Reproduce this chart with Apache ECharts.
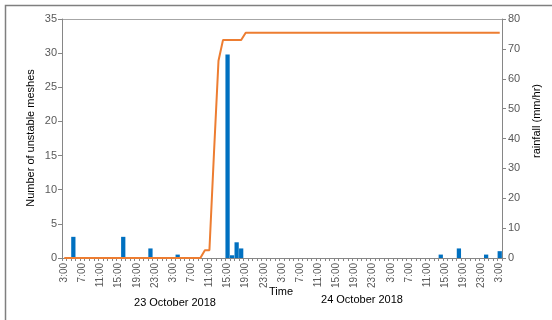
<!DOCTYPE html>
<html>
<head>
<meta charset="utf-8">
<script src="https://cdn.jsdelivr.net/npm/echarts@6/dist/echarts.min.js"></script>
<style>
  html, body { margin: 0; padding: 0; background: #fff; }
  #chart { width: 552px; height: 320px; }
</style>
</head>
<body>
<div id="chart"></div>
<script>
// Hourly time slots from 3:00 on the first day to 3:00 four days later (97 slots)
const START_HOUR = 3;
const SLOT_COUNT = 97;
const hours = Array.from({ length: SLOT_COUNT }, (_, i) => ((START_HOUR + i) % 24) + ':00');

// Number of unstable meshes per hour
const unstableMeshes = [
  0, 0, 3.1, 0, 0, 0, 0, 0, 0, 0,
  0, 0, 0, 3.1, 0, 0, 0, 0, 0, 1.4,
  0, 0, 0, 0, 0, 0.5, 0, 0, 0, 0,
  0, 0, 0, 0, 0, 0, 29.8, 0.4, 2.3, 1.4,
  0, 0, 0, 0, 0, 0, 0, 0, 0, 0,
  0, 0, 0, 0, 0, 0, 0, 0, 0, 0,
  0, 0, 0, 0, 0, 0, 0, 0, 0, 0,
  0, 0, 0, 0, 0, 0, 0, 0, 0, 0,
  0, 0, 0, 0.5, 0, 0, 0, 1.4, 0, 0,
  0, 0, 0, 0.5, 0, 0, 1.0
];

// Rainfall intensity (mm/hr)
const rainfall = [
  0, 0, 0, 0, 0, 0, 0, 0, 0, 0,
  0, 0, 0, 0, 0, 0, 0, 0, 0, 0,
  0, 0, 0, 0, 0, 0, 0, 0, 0, 0,
  0, 2.6, 2.6, 35, 66, 73, 73, 73, 73, 73,
  75.4, 75.4, 75.4, 75.4, 75.4, 75.4, 75.4, 75.4, 75.4, 75.4,
  75.4, 75.4, 75.4, 75.4, 75.4, 75.4, 75.4, 75.4, 75.4, 75.4,
  75.4, 75.4, 75.4, 75.4, 75.4, 75.4, 75.4, 75.4, 75.4, 75.4,
  75.4, 75.4, 75.4, 75.4, 75.4, 75.4, 75.4, 75.4, 75.4, 75.4,
  75.4, 75.4, 75.4, 75.4, 75.4, 75.4, 75.4, 75.4, 75.4, 75.4,
  75.4, 75.4, 75.4, 75.4, 75.4, 75.4, 75.4
];

const dateLabels = ['23 October 2018', '24 October 2018'];

const FONT = '"Liberation Sans", Arial, sans-serif';
const AXIS_COLOR = '#868686';
const TEXT_COLOR = '#595959';

const chart = echarts.init(document.getElementById('chart'), null, { renderer: 'canvas' });

chart.setOption({
  animation: false,
  backgroundColor: '#ffffff',
  grid: { left: 62, right: 50, top: 19, bottom: 62 },
  xAxis: {
    type: 'category',
    data: hours,
    boundaryGap: true,
    axisLine: { lineStyle: { color: AXIS_COLOR, width: 1 } },
    axisTick: { show: true, interval: 0, length: 3, lineStyle: { color: AXIS_COLOR } },
    axisLabel: {
      interval: 3, rotate: 90, margin: 5,
      fontFamily: FONT, fontSize: 10, color: TEXT_COLOR
    },
    splitLine: { show: false }
  },
  yAxis: [
    {
      type: 'value', min: 0, max: 35, interval: 5, position: 'left',
      axisLine: { show: true, lineStyle: { color: AXIS_COLOR } },
      axisTick: { show: true, length: 4, lineStyle: { color: AXIS_COLOR } },
      axisLabel: { margin: 5, fontFamily: FONT, fontSize: 11, color: TEXT_COLOR },
      splitLine: { show: false }
    },
    {
      type: 'value', min: 0, max: 80, interval: 10, position: 'right',
      axisLine: { show: true, lineStyle: { color: AXIS_COLOR } },
      axisTick: { show: true, length: 4, lineStyle: { color: AXIS_COLOR } },
      axisLabel: { margin: 6, fontFamily: FONT, fontSize: 11, color: TEXT_COLOR },
      splitLine: { show: false }
    }
  ],
  series: [
    {
      name: 'Number of unstable meshes',
      type: 'bar',
      yAxisIndex: 0,
      data: unstableMeshes,
      barCategoryGap: '6%',
      itemStyle: { color: '#0070C0' },
      z: 2
    },
    {
      name: 'rainfall (mm/hr)',
      type: 'line',
      yAxisIndex: 1,
      data: rainfall,
      showSymbol: false,
      symbol: 'none',
      lineStyle: { color: '#ED7D31', width: 2 },
      z: 3
    }
  ],
  graphic: [
    // outer frame of the figure
    {
      type: 'rect', silent: true,
      shape: { x: 5.5, y: 5.5, width: 600, height: 400 },
      style: { fill: 'none', stroke: '#7f7f7f', lineWidth: 1.5 }
    },
    // plot area top edge
    {
      type: 'line', silent: true,
      shape: { x1: 62, y1: 19.5, x2: 502, y2: 19.5 },
      style: { stroke: '#a6a6a6', lineWidth: 1 }
    },
    {
      type: 'text', silent: true, x: 31, y: 138, rotation: Math.PI / 2,
      style: {
        text: 'Number of unstable meshes', font: '11px ' + FONT,
        fill: '#000', align: 'center', verticalAlign: 'middle'
      }
    },
    {
      type: 'text', silent: true, x: 537, y: 121, rotation: Math.PI / 2,
      style: {
        text: 'rainfall (mm/hr)', font: '11px ' + FONT,
        fill: '#000', align: 'center', verticalAlign: 'middle'
      }
    },
    {
      type: 'text', silent: true, x: 281, y: 292,
      style: {
        text: 'Time', font: '11px ' + FONT,
        fill: '#000', align: 'center', verticalAlign: 'middle'
      }
    },
    {
      type: 'text', silent: true, x: 175, y: 303,
      style: {
        text: dateLabels[0], font: '11px ' + FONT,
        fill: '#000', align: 'center', verticalAlign: 'middle'
      }
    },
    {
      type: 'text', silent: true, x: 362, y: 300,
      style: {
        text: dateLabels[1], font: '11px ' + FONT,
        fill: '#000', align: 'center', verticalAlign: 'middle'
      }
    }
  ]
});
</script>
</body>
</html>
